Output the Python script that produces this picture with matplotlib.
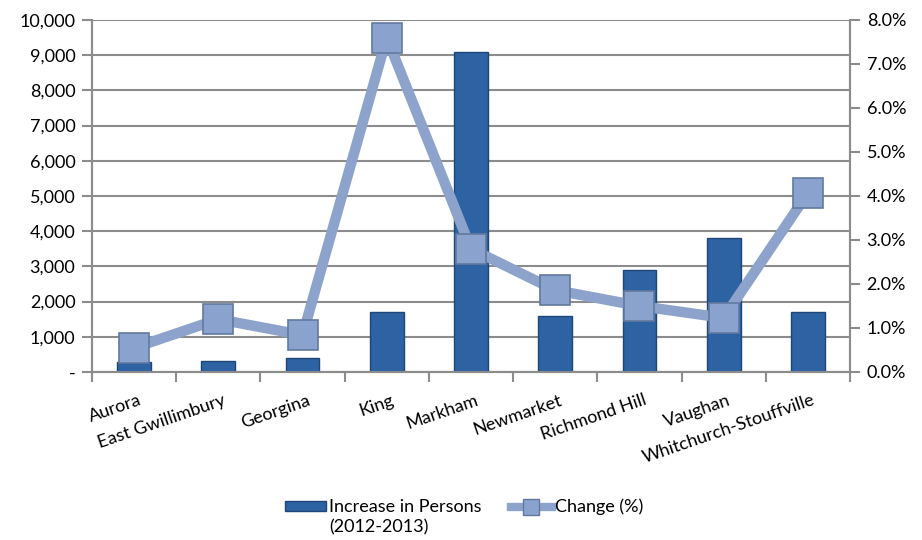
import matplotlib
matplotlib.use("Agg")
import matplotlib.pyplot as plt
from matplotlib.ticker import FuncFormatter, MultipleLocator
from matplotlib.lines import Line2D
from matplotlib.patches import Patch
from matplotlib.transforms import offset_copy

categories = ["Aurora", "East Gwillimbury", "Georgina", "King", "Markham",
              "Newmarket", "Richmond Hill", "Vaughan", "Whitchurch-Stouffville"]
increase = [280, 300, 400, 1700, 9100, 1600, 2900, 3800, 1700]
change_pct = [0.55, 1.2, 0.84, 7.6, 2.8, 1.86, 1.5, 1.23, 4.07]

plt.rcParams['font.family'] = ['Lato', 'DejaVu Sans']
FS = 13

fig = plt.figure(figsize=(9.22, 5.4), dpi=100)
ax = fig.add_axes([92/922, 1-372/540, (850-92)/922, (372-20)/540])
ax2 = ax.twinx()

x = list(range(len(categories)))
grid_c = '#8C8C8C'
bar_c = '#2D62A3'
bar_e = '#1E4678'
line_c = '#8DA3CB'
mk_c = '#8AA3CE'
mk_e = '#62799F'

ax.bar(x, increase, width=0.4, color=bar_c, edgecolor=bar_e, linewidth=1.0, zorder=3)
ax.set_xlim(-0.5, len(categories)-0.5)
ax.set_ylim(0, 10000)
ax.yaxis.set_major_locator(MultipleLocator(1000))
ax.yaxis.set_major_formatter(FuncFormatter(lambda v, p: '-' if v == 0 else f'{v:,.0f}'))
ax.grid(axis='y', color=grid_c, linewidth=1.5, zorder=0)
ax.set_axisbelow(True)

ax2.plot(x, change_pct, color=line_c, linewidth=7.5, solid_capstyle='round',
         marker='s', markersize=21, markerfacecolor=mk_c, markeredgecolor=mk_e,
         markeredgewidth=1.2, zorder=4)
ax2.set_ylim(0, 8)
ax2.yaxis.set_major_locator(MultipleLocator(1))
ax2.yaxis.set_major_formatter(FuncFormatter(lambda v, p: f'{v:.1f}%'))

for a in (ax, ax2):
    for s in a.spines.values():
        s.set_color(grid_c)
        s.set_linewidth(1.5)
    a.spines['top'].set_visible(False)
    a.tick_params(axis='y', colors='black', labelsize=FS, length=7, width=1.5,
                  color=grid_c, pad=5)

ax.set_xticks([i - 0.5 for i in range(len(categories) + 1)])
ax.set_xticklabels([''] * (len(categories) + 1))
ax.tick_params(axis='x', length=7, width=1.5, color=grid_c)
trans = offset_copy(ax.get_xaxis_transform(), fig=fig, x=4, y=-20, units='dots')
for i, c in enumerate(categories):
    ax.text(i, 0, c, rotation=19, rotation_mode='anchor', ha='right', va='top',
            fontsize=FS, transform=trans)

handles = [Patch(facecolor=bar_c, edgecolor=bar_e),
           Line2D([0], [0], color=line_c, linewidth=6, marker='s', markersize=12,
                  markerfacecolor=mk_c, markeredgecolor=mk_e)]
leg = fig.legend(handles, ['Increase in Persons', 'Change (%)'], loc='center',
                 bbox_to_anchor=(464/922, 1-507/540), ncol=2, frameon=False, fontsize=FS,
                 handlelength=2.3, handleheight=0.45, handletextpad=0.15, columnspacing=1.6)
fig.canvas.draw()
t0 = leg.get_texts()[0]
bb = t0.get_window_extent()
fig.text(bb.x0 / fig.dpi / 9.22, (bb.y0 - 4) / fig.dpi / 5.4, '(2012-2013)',
         ha='left', va='top', fontsize=FS)

fig.savefig('out.png', dpi=100)
